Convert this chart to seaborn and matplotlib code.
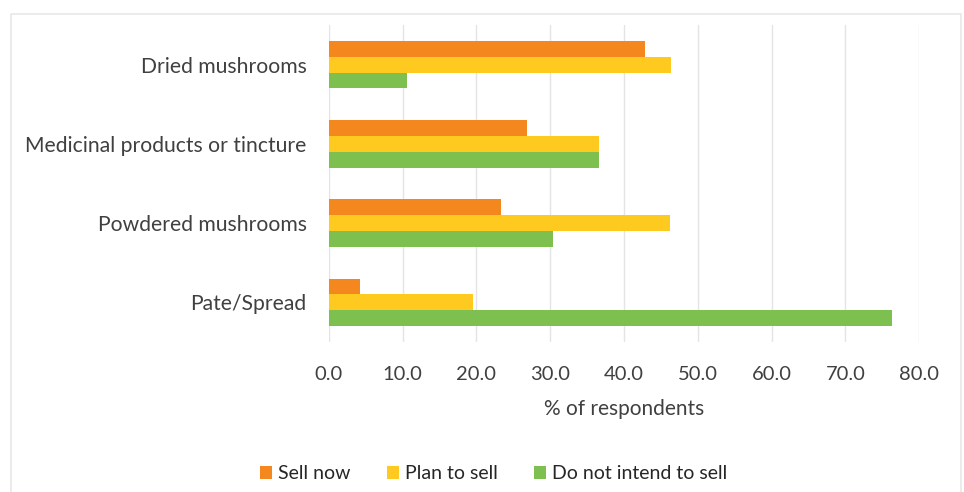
import pandas as pd
import seaborn as sns
import matplotlib.pyplot as plt
from matplotlib.patches import Rectangle

# values
products = ["Dried mushrooms", "Medicinal products or tincture", "Powdered mushrooms", "Pate/Spread"]
sell_now = [42.9, 26.8, 23.4, 4.2]
plan_to_sell = [46.4, 36.6, 46.2, 19.5]
not_intend = [10.6, 36.6, 30.4, 76.3]
series = ["Sell now", "Plan to sell", "Do not intend to sell"]
x_ticks = [0, 10, 20, 30, 40, 50, 60, 70, 80]

df = pd.DataFrame({
    "Product": products * 3,
    "Status": [s for s in series for _ in products],
    "Percent": sell_now + plan_to_sell + not_intend,
})

sns.set_style("white")
plt.rcParams["font.family"] = ["Lato", "DejaVu Sans"]

fig = plt.figure(figsize=(9.64, 4.92), dpi=100)
ax = fig.add_axes([0.341, 0.305, 0.6126, 0.644])

colors = ["#F5871F", "#FFCA1F", "#7EC04F"]
sns.barplot(data=df, y="Product", x="Percent", hue="Status", order=products,
            hue_order=series, palette=colors, width=0.6, saturation=1,
            orient="h", ax=ax, legend=True, linewidth=0)

ax.set_xlim(0, 80)
ax.set_xticks(x_ticks)
ax.set_xticklabels([f"{v:.1f}" for v in x_ticks], fontsize=14.5, color="#404040")
ax.tick_params(axis="y", labelsize=15.2, labelcolor="#404040", length=0, pad=16)
ax.tick_params(axis="x", length=0, pad=17)
ax.set_ylabel("")
ax.set_xlabel("% of respondents", fontsize=15, color="#404040", labelpad=12)
ax.grid(axis="x", color="#E4E4E4", linewidth=1)
ax.set_axisbelow(True)
for s in ax.spines.values():
    s.set_visible(False)

handles, labels = ax.get_legend_handles_labels()
ax.legend_.remove()
fig.legend(handles, labels, loc="center", bbox_to_anchor=(0.512, 0.037), ncol=3,
           frameon=False, fontsize=14, handlelength=0.6, handleheight=0.6,
           handletextpad=0.3, columnspacing=1.9)

# light frame around the chart area
fig.patches.append(Rectangle((0.011, -0.01), 0.986, 0.982, transform=fig.transFigure,
                             fill=False, edgecolor="#E8E8E8", linewidth=1.2))

fig.savefig("out.png", dpi=100)
